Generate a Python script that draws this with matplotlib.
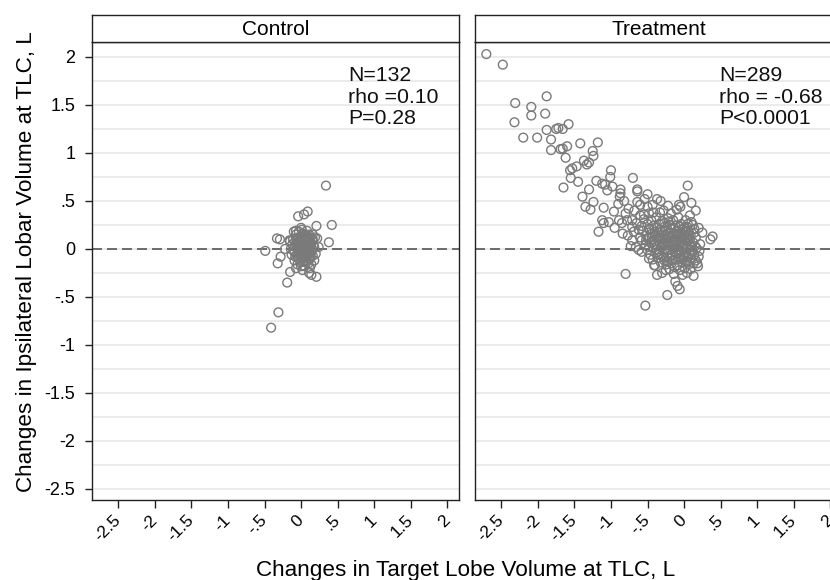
import numpy as np
import matplotlib.pyplot as plt

plt.rcParams['font.family'] = ['Liberation Sans', 'DejaVu Sans']

# Control group: change in target lobe volume (x) vs ipsilateral lobar volume (y)
ctrl_x = [0.34, 0.09, 0.04, -0.04, 0.21, 0.42, -0.07, 0.00, -0.33, -0.29, -0.16, 0.22, 0.38,
          -0.49, -0.22, -0.28, -0.32, -0.15, -0.19, 0.11, 0.14, 0.21, -0.31, -0.41, 0.24,
          -0.12, -0.10, -0.08, -0.06, -0.05, -0.04, -0.03, -0.02, -0.01, 0.00,
          0.01, 0.02, 0.03, 0.04, 0.05, 0.06, 0.07, 0.08, 0.09, 0.10,
          0.11, 0.12, 0.13, 0.14, 0.15, 0.16, -0.13, -0.11, -0.09, -0.07,
          -0.05, -0.03, 0.00, 0.02, 0.05, 0.07, 0.10, 0.12, 0.14, 0.17,
          0.18, 0.19, -0.14, -0.09, -0.02, 0.01, 0.04, 0.06, 0.08, 0.11,
          0.03, -0.06, 0.09, 0.13, 0.02, -0.01, 0.05, 0.07, 0.00, 0.04,
          0.06, -0.04, 0.10, 0.15, -0.08, 0.01, 0.08, -0.10, 0.12, 0.02,
          -0.07, 0.16, 0.20, 0.18, -0.15, 0.03, 0.05, -0.02, 0.09, 0.11,
          0.00, 0.02, 0.04, 0.06, 0.08, -0.02, 0.01, 0.03, 0.05, 0.07,
          -0.03, 0.10, 0.12, -0.05, 0.00, 0.06, 0.09, 0.13, -0.06, 0.02,
          0.14, -0.01, 0.07, 0.04, -0.09, 0.11, 0.16, 0.08, -0.04, 0.03]
ctrl_y = [0.66, 0.39, 0.36, 0.34, 0.24, 0.25, 0.19, 0.22, 0.11, 0.10, 0.09, 0.11, 0.07,
          -0.02, 0.00, -0.08, -0.15, -0.24, -0.35, -0.25, -0.27, -0.29, -0.66, -0.82, 0.02,
          0.05, -0.02, 0.08, -0.06, 0.02, 0.12, -0.10, 0.04, -0.03, 0.07,
          -0.08, 0.01, 0.10, -0.04, 0.05, -0.12, 0.02, 0.08, -0.06, 0.00,
          0.06, -0.10, 0.03, -0.03, 0.09, -0.07, -0.06, 0.10, -0.12, 0.15,
          -0.16, 0.18, -0.18, 0.16, -0.18, 0.14, -0.15, 0.12, -0.16, 0.04,
          -0.12, 0.12, 0.00, 0.03, -0.06, 0.12, 0.03, 0.09, -0.02, -0.05,
          -0.13, 0.06, 0.04, 0.07, -0.02, 0.01, -0.09, -0.05, 0.03, 0.07,
          0.00, -0.02, 0.10, 0.00, -0.08, 0.20, 0.19, 0.18, -0.20, -0.22,
          -0.20, 0.15, -0.05, 0.02, 0.08, 0.05, 0.13, 0.09, -0.10, 0.15,
          -0.01, 0.03, -0.01, 0.04, 0.01, 0.00, 0.06, -0.06, 0.02, 0.07,
          0.05, -0.02, 0.01, -0.08, 0.10, -0.03, 0.07, -0.07, 0.10, -0.10,
          0.05, -0.14, -0.14, 0.15, -0.03, 0.03, 0.10, 0.12, 0.07, 0.01]

# Treatment group
trt_x = [-2.705, -2.48, -2.31, -2.09, -1.88, -2.09, -1.90, -2.32, -2.20, -2.01,
         -1.88, -1.82, -1.82, -1.75, -1.72, -1.66, -1.58, -1.69, -1.66, -1.60,
         -1.42, -1.18, -1.25, -1.24, -1.37, -1.33, -1.30, -1.56, -1.53, -1.47,
         -1.00, -1.01, -0.70, -1.20, -1.12, -1.08, -0.98, -1.65, -1.55, -0.87,
         -0.64, -1.05, -0.64, -0.87, -0.88, -0.50, 0.05, -0.37, -0.32, 0.00,
         -1.39, -1.35, -1.28, -1.24, -1.10, -1.12, -1.10, -1.17, -0.96, -0.89,
         -0.85, -0.80, -0.78, -0.64, -0.60, -0.50, -0.48, -0.71, -0.71, -0.69,
         -0.71, -0.73, -0.66, -0.62, -0.07, -0.05, 0.16, 0.25, 0.36, 0.39,
         -0.80, -0.53, -0.23, -0.09, -0.06, -0.12, -0.41, -0.37, -0.30, -0.25,
         0.13, -0.02, 0.18, 0.20,
         -0.55, -0.45, -0.38, -0.30, -0.22, -0.15, -0.08, 0.02, 0.10,
         -0.58, -0.50, -0.42, -0.34, -0.27, -0.19, -0.12, -0.04, 0.04, 0.12,
         -0.56, -0.48, -0.40, -0.33, -0.25, -0.18, -0.10, -0.02, 0.06, 0.14,
         -0.52, -0.44, -0.37, -0.29, -0.21, -0.14, -0.06, 0.01, 0.09, 0.16,
         -0.58, -0.49, -0.41, -0.33, -0.26, -0.18, -0.11, -0.03, 0.05, 0.12,
         -0.53, -0.45, -0.37, -0.30, -0.22, -0.15, -0.07, 0.00, 0.08, 0.15,
         -0.50, -0.42, -0.34, -0.27, -0.19, -0.12, -0.04, 0.03, 0.11, 0.17,
         -0.46, -0.38, -0.31, -0.23, -0.16, -0.08, -0.01, 0.07, 0.14,
         -0.43, -0.35, -0.27, -0.20, -0.12, -0.05, 0.03, 0.10, 0.16,
         -0.32, -0.24, -0.17, -0.09, -0.02, 0.06, 0.13,
         -0.20, -0.13, -0.06, 0.01, 0.09,
         -0.26, -0.22, -0.17, -0.13, -0.09, -0.05, -0.01, 0.03, -0.24, -0.20,
         -0.16, -0.11, -0.07, -0.03, 0.01, 0.05, -0.29, -0.35, -0.31, -0.27,
         -0.14, -0.06, 0.02, -0.40, -0.44, -0.47, -0.36, -0.28, -0.18, -0.10,
         -0.03, 0.05, 0.12, 0.08, -0.20, -0.15, -0.10, -0.06, -0.02, 0.02,
         -0.25, -0.32, -0.39, -0.12, -0.08, 0.00, 0.07, -0.52, -0.48, -0.21,
         0.05, 0.10, 0.14, -0.16, 0.00, -0.37, -0.30, -0.23, -0.04, 0.04,
         -0.62, -0.60, -0.65, -0.55, -0.42, -0.28, -0.18, -0.10, 0.08, 0.20,
         0.22, 0.21, 0.19, -0.48, -0.40, -0.14, 0.04, -0.82, -0.76, -0.90,
         -0.60, -0.33, -0.95, -0.58, -1.03, -0.84, -0.54, -0.68, -0.43, -0.22,
         0.10, -1.30, -1.45, -1.62, -0.77]
trt_y = [2.03, 1.92, 1.52, 1.48, 1.59, 1.39, 1.41, 1.32, 1.16, 1.16,
         1.24, 1.14, 1.03, 1.25, 1.26, 1.25, 1.30, 1.04, 1.045, 1.07,
         1.10, 1.11, 1.02, 0.97, 0.92, 0.88, 0.90, 0.82, 0.84, 0.86,
         0.82, 0.75, 0.74, 0.71, 0.68, 0.67, 0.65, 0.64, 0.74, 0.62,
         0.62, 0.61, 0.60, 0.58, 0.545, 0.57, 0.66, 0.52, 0.50, 0.54,
         0.545, 0.44, 0.41, 0.49, 0.43, 0.30, 0.27, 0.18, 0.39, 0.30,
         0.27, 0.37, 0.30, 0.49, 0.46, 0.44, 0.37, 0.30, 0.23, 0.18,
         0.09, 0.03, 0.02, -0.01, 0.46, 0.44, 0.40, 0.17, 0.10, 0.13,
         -0.26, -0.59, -0.48, -0.385, -0.42, -0.34, -0.17, -0.27, -0.25, -0.22,
         -0.28, -0.27, -0.15, -0.08,
         0.31, 0.30, 0.33, 0.29, 0.32, 0.30, 0.33, 0.30, 0.28,
         0.24, 0.26, 0.24, 0.26, 0.23, 0.25, 0.24, 0.26, 0.23, 0.25,
         0.19, 0.21, 0.18, 0.20, 0.19, 0.21, 0.18, 0.20, 0.19, 0.21,
         0.14, 0.16, 0.13, 0.15, 0.14, 0.16, 0.13, 0.15, 0.14, 0.12,
         0.09, 0.11, 0.08, 0.10, 0.09, 0.11, 0.08, 0.10, 0.09, 0.07,
         0.04, 0.06, 0.03, 0.05, 0.04, 0.06, 0.03, 0.05, 0.04, 0.03,
         -0.01, 0.01, -0.02, 0.00, -0.01, 0.01, -0.02, 0.00, -0.01, 0.01,
         -0.06, -0.04, -0.07, -0.05, -0.06, -0.04, -0.07, -0.05, -0.06,
         -0.11, -0.09, -0.12, -0.10, -0.11, -0.09, -0.12, -0.10, -0.12,
         -0.14, -0.16, -0.15, -0.17, -0.14, -0.16, -0.15,
         -0.21, -0.19, -0.22, -0.20, -0.21,
         0.14, 0.07, 0.12, 0.04, 0.15, 0.06, 0.12, 0.02, -0.02, 0.17,
         0.02, 0.13, -0.01, 0.08, -0.04, 0.12, 0.07, 0.12, 0.18, 0.27,
         0.22, 0.23, 0.18, 0.05, 0.12, 0.20, -0.06, -0.09, -0.07, -0.06,
         -0.11, -0.08, -0.03, 0.10, 0.05, 0.09, 0.02, 0.10, 0.03, 0.08,
         0.11, 0.02, 0.15, -0.03, 0.19, -0.09, 0.16, 0.09, 0.02, 0.28,
         0.26, 0.02, 0.17, -0.12, 0.22, 0.22, 0.12, -0.13, 0.16, -0.14,
         0.20, 0.12, 0.27, 0.36, 0.38, 0.40, 0.37, 0.41, 0.35, 0.22,
         0.05, -0.02, -0.18, -0.10, -0.17, -0.26, -0.25, 0.50, 0.42, 0.47,
         0.35, 0.38, 0.22, -0.03, 0.28, 0.16, 0.52, 0.40, 0.46, 0.45,
         0.48, 0.62, 0.70, 0.95, 0.14]

panels = ['Control', 'Treatment']
stats = [['N=132', 'rho =0.10', 'P=0.28'], ['N=289', 'rho = -0.68', 'P<0.0001']]
xticks = [-2.5, -2, -1.5, -1, -0.5, 0, 0.5, 1, 1.5, 2]
xticklabels = ['-2.5', '-2', '-1.5', '-1', '-.5', '0', '.5', '1', '1.5', '2']
yticks = [2, 1.5, 1, 0.5, 0, -0.5, -1, -1.5, -2, -2.5]
yticklabels = ['2', '1.5', '1', '.5', '0', '-.5', '-1', '-1.5', '-2', '-2.5']

W, H = 830, 580
fig = plt.figure(figsize=(W / 100, H / 100), dpi=100)

grey = '#7a7a7a'
lefts = [92, 475]
pw = 367
top, strip_top, bottom = 42, 15, 500
stat_x = [0.64, 0.475]
stat_y = [1.753, 1.524, 1.305]

data = [(ctrl_x, ctrl_y), (trt_x, trt_y)]
for i, (xs, ys) in enumerate(data):
    l = lefts[i]
    ax = fig.add_axes([l / W, 1 - bottom / H, pw / W, (bottom - top) / H])
    ax.set_xlim(-2.86, 2.16)
    ax.set_ylim(-2.615, 2.156)
    for g in np.arange(-2.5, 2.01, 0.25):
        ax.axhline(g, color='#e6e6e6', lw=1.1, zorder=0)
    ax.axhline(0, color='#555555', lw=1.2, dashes=(6, 3), zorder=1)
    ax.scatter(xs, ys, s=40, facecolors='none', edgecolors=grey, linewidths=1.0, zorder=2)
    for line, yy in zip(stats[i], stat_y):
        ax.text(stat_x[i], yy, line, fontsize=15.3, va='baseline', ha='left', color='#111111')
    for s in ax.spines.values():
        s.set_color('#222222')
        s.set_linewidth(1.0)
    ax.set_xticks(xticks)
    ax.set_xticklabels(xticklabels, rotation=45, ha='right', va='center',
                       rotation_mode='anchor', fontsize=12.5)
    ax.tick_params(axis='x', length=5.8, width=1, pad=7, color='#222222')
    ax.set_yticks(yticks)
    if i == 0:
        ax.set_yticklabels(yticklabels, fontsize=13)
        ax.tick_params(axis='y', length=5, width=1, pad=7, color='#222222')
    else:
        ax.set_yticklabels([])
        ax.tick_params(axis='y', length=0)

    # title strip above each panel
    sx = fig.add_axes([l / W, 1 - top / H, pw / W, (top - strip_top) / H])
    sx.set_xticks([])
    sx.set_yticks([])
    for s in sx.spines.values():
        s.set_color('#222222')
        s.set_linewidth(1.0)
    sx.text(0.5, 0.45, panels[i], transform=sx.transAxes, ha='center', va='center',
            fontsize=15)

fig.text(32 / W, 1 - 262 / H, 'Changes in Ipsilateral Lobar Volume at TLC, L',
         rotation=90, rotation_mode='anchor', ha='center', va='baseline', fontsize=16.2)
fig.text(465.5 / W, 1 - 576 / H, 'Changes in Target Lobe Volume at TLC, L',
         ha='center', va='baseline', fontsize=16.2)

fig.savefig('out.png', dpi=100)
